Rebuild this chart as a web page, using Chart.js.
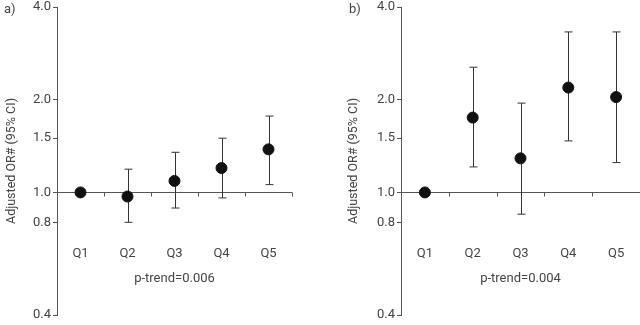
<!DOCTYPE html>
<html>
<head>
<meta charset="utf-8">
<script src="https://cdn.jsdelivr.net/npm/chart.js@4/dist/chart.umd.min.js"></script>
<style>
  body { margin: 0; background: #fff; }
  .panel { position: absolute; top: 0; width: 320px; height: 325px; }
  .tag { position: absolute; top: 1px; font: 13px Roboto, sans-serif; color: #444; }
</style>
</head>
<body>
<div class="panel" style="left:0"><canvas id="chartA" width="320" height="325"></canvas></div>
<div class="panel" style="left:320px"><canvas id="chartB" width="320" height="325"></canvas></div>
<div class="tag" style="left:4px">a)</div>
<div class="tag" style="left:349px">b)</div>
<script>
// quintiles
var quintiles = ['Q1', 'Q2', 'Q3', 'Q4', 'Q5'];
var yTicks = [0.4, 0.8, 1.0, 1.5, 2.0, 4.0];

// panel a
var orA = [1.0, 0.97, 1.09, 1.20, 1.38];
var lowA = [null, 0.80, 0.89, 0.96, 1.06];
var highA = [null, 1.19, 1.35, 1.50, 1.77];
var trendA = 'p-trend=0.006';

// panel b
var orB = [1.0, 1.75, 1.29, 2.19, 2.04];
var lowB = [null, 1.21, 0.85, 1.47, 1.25];
var highB = [null, 2.55, 1.95, 3.32, 3.32];
var trendB = 'p-trend=0.004';

var textColor = '#444';
var lineColor = '#555';
var fontFam = 'Roboto, sans-serif';

// error bars, baseline at OR=1 with quintile labels, p-trend text
var errorBars = {
    id: 'errorBars',
    beforeDatasetsDraw: function (chart) {
        var ctx = chart.ctx;
        var xs = chart.scales.x, ys = chart.scales.y;
        var a = chart.chartArea;
        var ds = chart.data.datasets[0];
        var base = Math.round(ys.getPixelForValue(1)) + 0.5;
        var step = xs.getPixelForValue(1) - xs.getPixelForValue(0);
        ctx.save();
        ctx.lineWidth = 1;

        // baseline + tick marks between quintiles
        ctx.strokeStyle = lineColor;
        ctx.beginPath();
        ctx.moveTo(a.left, base); ctx.lineTo(a.right, base);
        for (var k = 0; k < quintiles.length; k++) {
            var tx = Math.round(xs.getPixelForValue(k) + step / 2) + 0.5;
            ctx.moveTo(tx, base); ctx.lineTo(tx, base + 4);
        }
        ctx.stroke();

        ctx.strokeStyle = '#333';
        for (var i = 0; i < ds.data.length; i++) {
            if (ds.low[i] == null) continue;
            var x = Math.round(xs.getPixelForValue(i)) + 0.5;
            var y1 = ys.getPixelForValue(ds.low[i]);
            var y2 = ys.getPixelForValue(ds.high[i]);
            ctx.beginPath();
            ctx.moveTo(x, y1); ctx.lineTo(x, y2);
            ctx.moveTo(x - 4, y1); ctx.lineTo(x + 4, y1);
            ctx.moveTo(x - 4, y2); ctx.lineTo(x + 4, y2);
            ctx.stroke();
        }

        // labels
        ctx.fillStyle = textColor;
        ctx.font = '13px ' + fontFam;
        ctx.textAlign = 'center';
        ctx.textBaseline = 'middle';
        for (var j = 0; j < quintiles.length; j++) {
            ctx.fillText(quintiles[j], xs.getPixelForValue(j), base + 61);
        }
        ctx.fillText(chart.options.plugins.errorBars.trend, (a.left + a.right) / 2, base + 86);
        ctx.restore();
    }
};

function makeChart(id, values, low, high, trend, axisWidth, padLeft, padRight) {
    return new Chart(document.getElementById(id), {
        type: 'line',
        data: {
            labels: quintiles,
            datasets: [{
                data: values,
                low: low,
                high: high,
                showLine: false,
                clip: false,
                pointRadius: 5.5,
                pointHoverRadius: 5.5,
                pointBackgroundColor: '#111',
                pointBorderColor: '#111'
            }]
        },
        options: {
            responsive: false,
            animation: false,
            layout: { autoPadding: false, padding: { left: padLeft, right: padRight, top: 7, bottom: 10 } },
            plugins: {
                legend: { display: false },
                tooltip: { enabled: false },
                errorBars: { trend: trend }
            },
            scales: {
                x: {
                    type: 'category',
                    offset: true,
                    display: false
                },
                y: {
                    type: 'logarithmic',
                    min: 0.4,
                    max: 4,
                    afterBuildTicks: function (scale) {
                        scale.ticks = yTicks.map(function (v) { return { value: v }; });
                    },
                    afterFit: function (scale) {
                        scale.width = axisWidth;
                        scale.paddingTop = 0;
                        scale.paddingBottom = 0;
                    },
                    grid: { drawOnChartArea: false, tickLength: 4, color: lineColor },
                    border: { color: lineColor, width: 1 },
                    ticks: {
                        color: textColor,
                        font: { family: fontFam, size: 13 },
                        padding: 2,
                        callback: function (v) { return Number(v).toFixed(1); }
                    },
                    title: {
                        display: true,
                        text: 'Adjusted OR# (95% CI)',
                        color: textColor,
                        font: { family: fontFam, size: 12.5 },
                        padding: { top: 4, bottom: 4 }
                    }
                }
            }
        },
        plugins: [errorBars]
    });
}

makeChart('chartA', orA, lowA, highA, trendA, 57, 0, 28);
makeChart('chartB', orB, lowB, highB, trendB, 59, 22, 0);
</script>
</body>
</html>
